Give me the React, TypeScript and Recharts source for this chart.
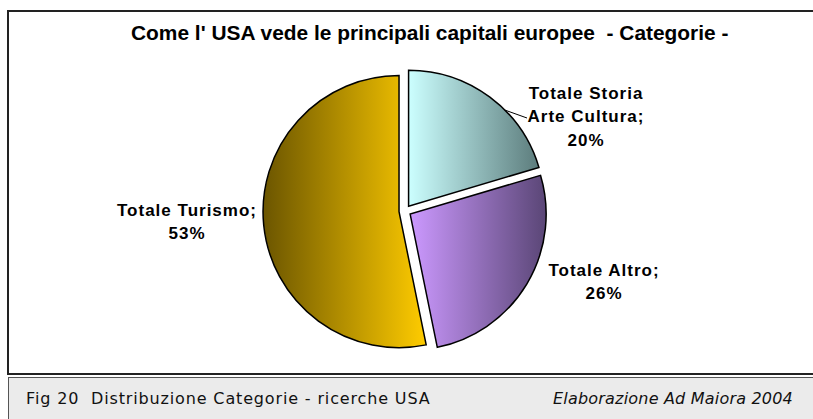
import React from "react";
import { PieChart, Pie, Cell, Sector } from "recharts";

const categories = ["Totale Storia Arte Cultura", "Totale Altro", "Totale Turismo"];
const shares = [20.4, 26.4, 53.2];

const data = categories.map((name, i) => ({ name, value: shares[i] }));

const gradients = [
  { id: "gStoria", from: "#ccffff", to: "#5c7c7c" },
  { id: "gAltro", from: "#cc99ff", to: "#5a4676" },
  { id: "gTurismo", from: "#6b5500", to: "#ffcc00" },
];

// label text lines (as Excel draws them) and their placement around the pie centre
const labelLines = [
  ["Totale Storia", "Arte Cultura;"],
  ["Totale Altro;"],
  ["Totale Turismo;"],
];
const labelLayout = [
  { dx: 181, dy: -118, line: true },
  { dx: 199, dy: 59, line: false },
  { dx: -218, dy: -1, line: false },
];

const RADIAN = Math.PI / 180;
const EXPLODE = 6;

const explodedShape = (props: any) => {
  const { cx, cy, midAngle } = props;
  const dx = EXPLODE * Math.cos(-midAngle * RADIAN);
  const dy = EXPLODE * Math.sin(-midAngle * RADIAN);
  return <Sector {...props} cx={cx + dx} cy={cy + dy} />;
};

const renderLabel = (props: any) => {
  const { cx, cy, index, percent, outerRadius, midAngle } = props;
  const lay = labelLayout[index];
  const lines = [...labelLines[index], `${Math.round(percent * 100)}%`];
  const x = cx + lay.dx;
  const y0 = cy + lay.dy;
  let leader = null;
  if (lay.line) {
    const ex = cx + EXPLODE * Math.cos(-midAngle * RADIAN);
    const ey = cy + EXPLODE * Math.sin(-midAngle * RADIAN);
    const a = 45 * RADIAN;
    leader = (
      <polyline
        points={`${ex + outerRadius * Math.cos(a)},${ey - outerRadius * Math.sin(a)} ${x - 59},${y0 + 25}`}
        fill="none"
        stroke="#000"
        strokeWidth={1}
      />
    );
  }
  return (
    <g key={`lbl-${index}`}>
      {leader}
      {lines.map((t, k) => (
        <text
          key={k}
          x={x}
          y={y0 + k * 23.5}
          textAnchor="middle"
          dominantBaseline="central"
          fontFamily="'Liberation Sans', Arial, sans-serif"
          fontWeight="bold"
          fontSize={17}
          letterSpacing={1}
          fill="#000"
        >
          {t}
        </text>
      ))}
    </g>
  );
};

export default function App() {
  return (
    <div
      style={{
        position: "absolute",
        left: 0,
        top: 0,
        width: 813,
        height: 419,
        overflow: "hidden",
        background: "#fff",
      }}
    >
      <div
        style={{
          position: "absolute",
          left: 7,
          top: 10,
          width: 815,
          height: 361,
          border: "2px solid #222",
        }}
      />
      <div
        style={{
          position: "absolute",
          left: 131,
          top: 21,
          whiteSpace: "nowrap",
          fontFamily: "'Liberation Sans', Arial, sans-serif",
          fontWeight: "bold",
          fontSize: 20.9,
          color: "#000",
        }}
      >
        Come l' USA vede le principali capitali europee&nbsp; - Categorie -
      </div>
      <div style={{ position: "absolute", left: 0, top: 0 }}>
        <PieChart width={813} height={372} margin={{ top: 0, right: 0, bottom: 0, left: 0 }}>
          <defs>
            {gradients.map((g) => (
              <linearGradient key={g.id} id={g.id} x1="0" y1="0" x2="1" y2="0">
                <stop offset="0%" stopColor={g.from} />
                <stop offset="100%" stopColor={g.to} />
              </linearGradient>
            ))}
          </defs>
          <Pie
            data={data}
            dataKey="value"
            nameKey="name"
            cx={405}
            cy={211}
            outerRadius={136}
            startAngle={90}
            endAngle={-270}
            stroke="#000"
            strokeWidth={1.5}
            shape={explodedShape}
            label={renderLabel}
            labelLine={false}
            isAnimationActive={false}
          >
            {data.map((d, i) => (
              <Cell key={d.name} fill={`url(#${gradients[i].id})`} />
            ))}
          </Pie>
        </PieChart>
      </div>
      <div
        style={{
          position: "absolute",
          left: 8,
          top: 377,
          width: 815,
          height: 50,
          background: "#ebebeb",
          borderTop: "1px solid #555",
          borderLeft: "1px solid #555",
        }}
      />
      <div
        style={{
          position: "absolute",
          left: 26,
          top: 389,
          whiteSpace: "pre",
          fontFamily: "'DejaVu Sans', Verdana, sans-serif",
          fontSize: 16,
          letterSpacing: 0.85,
          color: "#111",
        }}
      >
        Fig 20  Distribuzione Categorie - ricerche USA
      </div>
      <div
        style={{
          position: "absolute",
          right: 20,
          top: 389,
          whiteSpace: "pre",
          fontFamily: "'DejaVu Sans', Verdana, sans-serif",
          fontStyle: "italic",
          fontSize: 16,
          letterSpacing: 0.2,
          color: "#111",
        }}
      >
        Elaborazione Ad Maiora 2004
      </div>
    </div>
  );
}
